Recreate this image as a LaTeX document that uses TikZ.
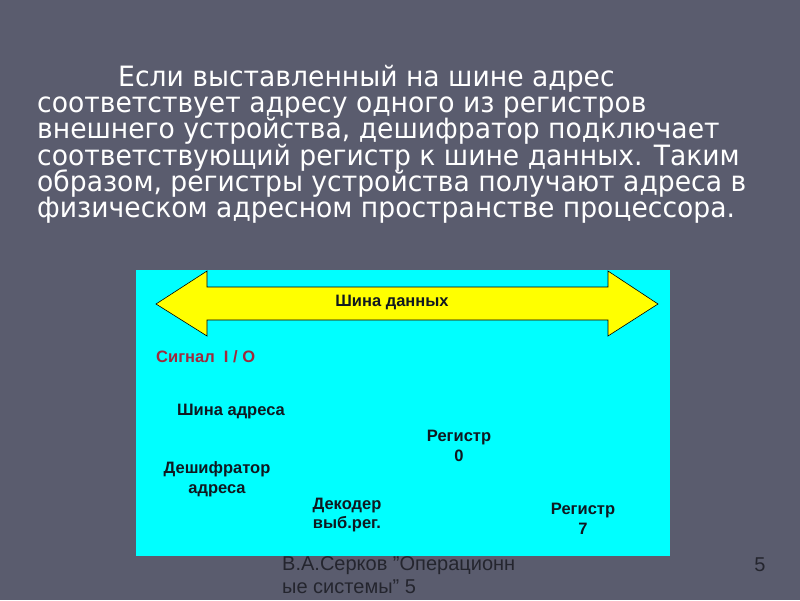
\documentclass[tikz,border=0pt]{standalone}
\usepackage{fontspec}
\setmainfont{Liberation Sans}
\newfontfamily\parafont[FakeStretch=0.95]{DejaVu Sans}
\newcommand\tightlines{\lineskiplimit=-30pt\relax}
\usetikzlibrary{backgrounds}

\definecolor{slidebg}{RGB}{90,92,110}
\definecolor{boardcyan}{RGB}{0,255,255}
\definecolor{buscolor}{RGB}{255,255,0}
\definecolor{signalred}{RGB}{160,42,60}
\definecolor{labelink}{RGB}{16,24,32}
\definecolor{footink}{RGB}{36,37,46}

\begin{document}
\begin{tikzpicture}[x=1pt,y=-1pt,
  lbl/.style={text=labelink,font=\fontsize{16.5}{19.5}\selectfont\bfseries,align=center,inner sep=0pt}]

\useasboundingbox (0,0) rectangle (800,600);
\fill[slidebg] (0,0) rectangle (800,600);

% text of the slide
\node[text=white,anchor=north west,align=left,inner sep=0pt,
      font={\parafont\fontsize{28}{26.2}\selectfont\tightlines}] (para) at (37,65)
  {\hspace*{81pt}Если выставленный на шине адрес\\
   соответствует адресу одного из регистров\\
   внешнего устройства, дешифратор подключает\\
   соответствующий регистр к шине данных. Таким\\
   образом, регистры устройства получают адреса в\\
   физическом адресном пространстве процессора.};

% board
\fill[boardcyan] (136,270) rectangle (670,556);

% data bus
\filldraw[fill=buscolor,draw=black,line width=.6pt]
  (156,304) -- (207,271) -- (207,287) -- (608,287) -- (608,271)
  -- (658,304) -- (608,336) -- (608,320) -- (207,320) -- (207,336) -- cycle;
\node[lbl] (databus) at (392,302) {Шина данных};

\node[lbl,text=signalred,anchor=west] (sigio) at (156,357) {Сигнал\ \ I / O};

\node[lbl] (addrbus) at (231,412) {Шина адреса};
\node[lbl] (reg0) at (459,446) {Регистр\\0};
\node[lbl] (decoder) at (217,479) {Дешифратор\\адреса};
\node[lbl] (seldec) at (347,515) {Декодер\\выб.рег.};
\node[lbl] (reg7) at (583,519) {Регистр\\7};

% footer
\node[text=footink,anchor=north west,align=left,inner sep=0pt,
      font=\fontsize{20}{23}\selectfont] (author) at (282,556)
  {В.А.Серков "Операционн\\ые системы" 5};
\node[text=footink,font=\fontsize{20}{23}\selectfont] (pageno) at (760,565) {5};

\end{tikzpicture}
\end{document}
